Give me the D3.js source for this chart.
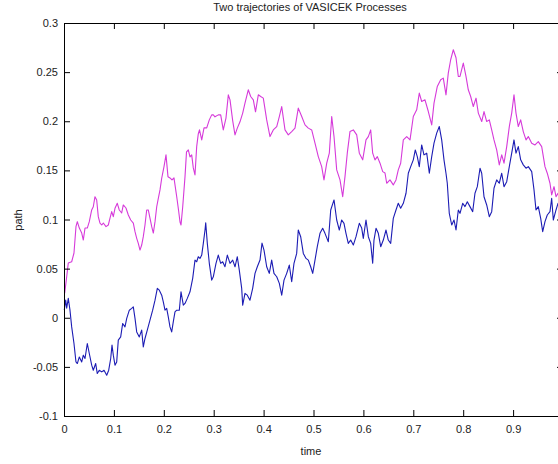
<!DOCTYPE html>
<html>
<head>
<meta charset="utf-8">
<script src="https://cdn.jsdelivr.net/npm/d3@7"></script>
<style>
  html, body { margin: 0; padding: 0; background: #fff; }
  svg { display: block; }
  text { font-family: "Liberation Sans", Arial, Helvetica, sans-serif; }
</style>
</head>
<body>
<div id="chart"></div>
<script>
const titleText = "Two trajectories of VASICEK Processes";
const xLabelText = "time";
const yLabelText = "path";

const xTickValues = [0, 0.1, 0.2, 0.3, 0.4, 0.5, 0.6, 0.7, 0.8, 0.9];
const xTickLabels = ["0", "0.1", "0.2", "0.3", "0.4", "0.5", "0.6", "0.7", "0.8", "0.9"];
const yTickValues = [-0.1, -0.05, 0, 0.05, 0.1, 0.15, 0.2, 0.25, 0.3];
const yTickLabels = ["-0.1", "-0.05", "0", "0.05", "0.1", "0.15", "0.2", "0.25", "0.3"];

// Trajectory 1 (magenta)
const magentaT = [0.0014,0.0054,0.0086,0.0154,0.0200,0.0240,0.0267,0.0307,0.0355,0.0387,0.0421,0.0467,0.0507,0.0555,0.0587,0.0621,0.0655,0.0687,0.0721,0.0756,0.0788,0.0842,0.0888,0.0922,0.0956,0.0988,0.1022,0.1068,0.1108,0.1156,0.1188,0.1242,0.1289,0.1337,0.1389,0.1423,0.1457,0.1489,0.1523,0.1557,0.1589,0.1623,0.1657,0.1689,0.1723,0.1758,0.1790,0.1824,0.1858,0.1890,0.1924,0.1958,0.2004,0.2044,0.2084,0.2124,0.2164,0.2204,0.2259,0.2295,0.2325,0.2345,0.2379,0.2425,0.2455,0.2491,0.2525,0.2559,0.2591,0.2625,0.2659,0.2691,0.2715,0.2760,0.2806,0.2860,0.2912,0.2960,0.2992,0.3026,0.3092,0.3140,0.3192,0.3246,0.3293,0.3327,0.3381,0.3427,0.3473,0.3527,0.3581,0.3627,0.3693,0.3741,0.3794,0.3838,0.3894,0.3942,0.3994,0.4062,0.4128,0.4194,0.4263,0.4315,0.4363,0.4429,0.4495,0.4563,0.4629,0.4695,0.4764,0.4830,0.4896,0.4964,0.5030,0.5096,0.5164,0.5210,0.5265,0.5317,0.5365,0.5411,0.5465,0.5531,0.5585,0.5631,0.5677,0.5731,0.5798,0.5866,0.5918,0.5986,0.6052,0.6099,0.6146,0.6186,0.6232,0.6279,0.6333,0.6387,0.6433,0.6467,0.6533,0.6599,0.6653,0.6699,0.6747,0.6800,0.6868,0.6934,0.7000,0.7068,0.7120,0.7168,0.7234,0.7301,0.7369,0.7415,0.7481,0.7549,0.7601,0.7655,0.7701,0.7749,0.7802,0.7856,0.7902,0.7936,0.8002,0.8056,0.8102,0.8150,0.8202,0.8257,0.8303,0.8371,0.8417,0.8471,0.8523,0.8571,0.8617,0.8671,0.8723,0.8772,0.8818,0.8872,0.8924,0.8972,0.9018,0.9058,0.9104,0.9152,0.9204,0.9259,0.9305,0.9373,0.9439,0.9505,0.9573,0.9639,0.9685,0.9739,0.9773,0.9820,0.9860,0.9900,0.9950,1.0000];
const magentaV = [0.0251,0.0417,0.0557,0.0570,0.0659,0.0927,0.0978,0.0913,0.0862,0.0791,0.0913,0.0913,0.0978,0.1097,0.1130,0.1232,0.1199,0.1029,0.0964,0.0944,0.0964,0.0927,0.0944,0.1015,0.1080,0.1029,0.1114,0.1165,0.1097,0.1066,0.1148,0.1117,0.1046,0.0995,0.0964,0.0876,0.0808,0.0757,0.0689,0.0740,0.0825,0.0944,0.1097,0.1097,0.1015,0.0927,0.0862,0.0978,0.1130,0.1216,0.1301,0.1420,0.1538,0.1658,0.1436,0.1423,0.1403,0.1423,0.1232,0.1097,0.0975,0.0944,0.1130,0.1436,0.1688,0.1708,0.1637,0.1658,0.1525,0.1454,0.1742,0.1871,0.1912,0.1810,0.1933,0.1933,0.2014,0.2065,0.2065,0.2045,0.2065,0.2065,0.1912,0.2032,0.2269,0.2218,0.2004,0.1861,0.1930,0.1994,0.2083,0.2185,0.2320,0.2252,0.2218,0.2096,0.2269,0.2252,0.2235,0.2014,0.1844,0.1912,0.1946,0.2048,0.2150,0.1912,0.1861,0.1895,0.1930,0.2134,0.2048,0.1963,0.1930,0.1912,0.1777,0.1640,0.1538,0.1403,0.1573,0.1675,0.2048,0.1844,0.1505,0.1403,0.1232,0.1436,0.1675,0.1895,0.1912,0.1861,0.1675,0.1607,0.1810,0.1844,0.1912,0.1675,0.1607,0.1640,0.1573,0.1487,0.1473,0.1369,0.1403,0.1352,0.1403,0.1505,0.1573,0.1810,0.1844,0.1810,0.2048,0.2116,0.2286,0.2201,0.2218,0.2099,0.1963,0.2185,0.2354,0.2422,0.2439,0.2269,0.2490,0.2626,0.2728,0.2646,0.2456,0.2456,0.2592,0.2456,0.2320,0.2252,0.2150,0.2235,0.2083,0.1997,0.2099,0.1997,0.2014,0.1912,0.1810,0.1708,0.1556,0.1658,0.1573,0.1742,0.1946,0.2083,0.2269,0.2083,0.1946,0.2014,0.1895,0.1810,0.1844,0.1777,0.1759,0.1793,0.1742,0.1538,0.1471,0.1369,0.1250,0.1334,0.1232,0.1267,0.1180,0.1220];

// Trajectory 2 (blue)
const blueT = [0.0006,0.0034,0.0054,0.0086,0.0120,0.0154,0.0200,0.0240,0.0267,0.0307,0.0355,0.0387,0.0421,0.0467,0.0507,0.0555,0.0587,0.0635,0.0667,0.0707,0.0756,0.0802,0.0856,0.0896,0.0936,0.0962,0.0988,0.1022,0.1056,0.1088,0.1136,0.1176,0.1222,0.1257,0.1309,0.1357,0.1389,0.1423,0.1457,0.1509,0.1557,0.1589,0.1623,0.1669,0.1723,0.1777,0.1824,0.1870,0.1910,0.1958,0.1990,0.2024,0.2058,0.2090,0.2124,0.2158,0.2190,0.2224,0.2259,0.2311,0.2345,0.2391,0.2425,0.2471,0.2525,0.2579,0.2625,0.2659,0.2691,0.2725,0.2760,0.2792,0.2826,0.2840,0.2872,0.2912,0.2960,0.2992,0.3046,0.3092,0.3140,0.3180,0.3226,0.3273,0.3327,0.3381,0.3427,0.3473,0.3513,0.3561,0.3581,0.3627,0.3673,0.3727,0.3781,0.3828,0.3874,0.3928,0.3968,0.4008,0.4062,0.4114,0.4162,0.4208,0.4263,0.4315,0.4363,0.4409,0.4463,0.4515,0.4563,0.4609,0.4663,0.4695,0.4743,0.4796,0.4850,0.4896,0.4944,0.4984,0.5030,0.5076,0.5130,0.5184,0.5230,0.5297,0.5345,0.5411,0.5465,0.5517,0.5565,0.5611,0.5651,0.5697,0.5745,0.5798,0.5852,0.5918,0.5966,0.5998,0.6052,0.6099,0.6146,0.6186,0.6212,0.6253,0.6299,0.6347,0.6399,0.6453,0.6499,0.6547,0.6599,0.6653,0.6699,0.6747,0.6800,0.6854,0.6900,0.6948,0.7000,0.7040,0.7080,0.7120,0.7168,0.7214,0.7269,0.7321,0.7369,0.7415,0.7469,0.7521,0.7569,0.7615,0.7655,0.7681,0.7721,0.7770,0.7816,0.7856,0.7902,0.7936,0.7990,0.8036,0.8082,0.8136,0.8190,0.8236,0.8283,0.8337,0.8371,0.8417,0.8471,0.8523,0.8571,0.8617,0.8671,0.8723,0.8772,0.8818,0.8872,0.8924,0.8972,0.9018,0.9058,0.9104,0.9152,0.9204,0.9259,0.9305,0.9373,0.9419,0.9459,0.9505,0.9553,0.9593,0.9639,0.9685,0.9739,0.9773,0.9806,0.9860,0.9900,0.9950,1.0000];
const blueV = [0.0077,0.0179,0.0098,0.0197,0.0077,-0.0093,-0.0262,-0.0450,-0.0466,-0.0399,-0.0450,-0.0381,-0.0415,-0.0262,-0.0364,-0.0483,-0.0534,-0.0466,-0.0568,-0.0534,-0.0551,-0.0534,-0.0585,-0.0534,-0.0415,-0.0279,-0.0381,-0.0483,-0.0450,-0.0228,-0.0195,-0.0058,-0.0093,-0.0007,0.0077,0.0095,0.0111,-0.0007,-0.0144,-0.0195,-0.0126,-0.0297,-0.0211,-0.0126,-0.0024,0.0077,0.0179,0.0299,0.0281,0.0230,0.0162,0.0077,0.0095,0.0009,-0.0093,-0.0144,-0.0042,0.0060,0.0077,0.0077,0.0264,0.0128,0.0146,0.0197,0.0264,0.0401,0.0587,0.0570,0.0621,0.0604,0.0638,0.0757,0.0893,0.0967,0.0757,0.0554,0.0383,0.0417,0.0554,0.0638,0.0554,0.0570,0.0519,0.0638,0.0554,0.0587,0.0519,0.0621,0.0485,0.0299,0.0128,0.0248,0.0230,0.0179,0.0299,0.0452,0.0519,0.0587,0.0760,0.0689,0.0519,0.0452,0.0587,0.0452,0.0417,0.0350,0.0230,0.0383,0.0452,0.0536,0.0366,0.0554,0.0655,0.0893,0.0825,0.0655,0.0604,0.0587,0.0519,0.0452,0.0587,0.0723,0.0859,0.0910,0.0859,0.0774,0.1097,0.1199,0.0995,0.0893,0.0995,0.0961,0.0859,0.0757,0.0791,0.0740,0.0825,0.0961,0.0913,0.0808,0.0995,0.0825,0.0757,0.0554,0.0791,0.0910,0.0859,0.0723,0.0791,0.0893,0.0791,0.0757,0.1012,0.1097,0.1165,0.1114,0.1165,0.1267,0.1471,0.1538,0.1607,0.1708,0.1640,0.1538,0.1759,0.1658,0.1675,0.1471,0.1640,0.1777,0.1879,0.1946,0.1810,0.1607,0.1471,0.1369,0.1063,0.0944,0.0995,0.0893,0.1097,0.1063,0.1165,0.1131,0.1181,0.1131,0.1080,0.1267,0.1334,0.1522,0.1471,0.1232,0.1148,0.1029,0.1080,0.1318,0.1403,0.1369,0.1471,0.1334,0.1385,0.1538,0.1675,0.1810,0.1675,0.1742,0.1607,0.1556,0.1522,0.1538,0.1487,0.1301,0.1097,0.1131,0.1012,0.0876,0.0978,0.1046,0.1080,0.1216,0.0995,0.1097,0.1165,0.1100,0.1060];

const seriesColors = ["#d63ada", "#1c1cb4"];

const W = 558, H = 464;
const svg = d3.select("#chart").append("svg")
  .attr("width", W).attr("height", H)
  .style("background", "#fff");

const x = d3.scaleLinear().domain([0, 1]).range([64, 563]);
const y = d3.scaleLinear().domain([-0.1, 0.3]).range([416, 23]);

const fontSize = 11;
const textColor = "#222";

// Series lines
const series = [
  { t: magentaT, v: magentaV, color: seriesColors[0] },
  { t: blueT, v: blueV, color: seriesColors[1] }
];
const line = d3.line().x(d => x(d[0])).y(d => y(d[1]));
series.forEach(s => {
  const pts = s.t.map((t, i) => [t, s.v[i]]);
  svg.append("path")
    .datum(pts)
    .attr("fill", "none")
    .attr("stroke", s.color)
    .attr("stroke-width", 1.1)
    .attr("stroke-linejoin", "round")
    .attr("d", line);
});

function styleAxis(g) {
  g.selectAll("path.domain").attr("stroke", "#000").attr("stroke-width", 1);
  g.selectAll(".tick line").attr("stroke", "#000").attr("stroke-width", 1);
  g.selectAll("text")
    .attr("font-size", fontSize)
    .attr("font-family", '"Liberation Sans", Arial, Helvetica, sans-serif')
    .attr("fill", textColor);
}

const tickLen = 6;
const allXTicks = xTickValues.concat([1]);
// Bottom axis
svg.append("g").attr("transform", `translate(0,${y(-0.1)})`)
  .call(d3.axisBottom(x).tickValues(xTickValues)
    .tickFormat((d, i) => xTickLabels[i])
    .tickSizeInner(-tickLen).tickSizeOuter(0).tickPadding(9))
  .call(styleAxis);
// Top axis
svg.append("g").attr("transform", `translate(0,${y(0.3)})`)
  .call(d3.axisTop(x).tickValues(xTickValues).tickFormat(() => "")
    .tickSizeInner(-tickLen).tickSizeOuter(0))
  .call(styleAxis);
// Left axis
svg.append("g").attr("transform", `translate(${x(0)},0)`)
  .call(d3.axisLeft(y).tickValues(yTickValues)
    .tickFormat((d, i) => yTickLabels[i])
    .tickSizeInner(-tickLen).tickSizeOuter(0).tickPadding(6))
  .call(styleAxis);
// Right axis
svg.append("g").attr("transform", `translate(${x(1)},0)`)
  .call(d3.axisRight(y).tickValues(yTickValues).tickFormat(() => "")
    .tickSizeInner(-tickLen).tickSizeOuter(0))
  .call(styleAxis);

// Title
svg.append("text")
  .attr("x", 310).attr("y", 11)
  .attr("text-anchor", "middle")
  .attr("font-size", fontSize)
  .attr("fill", textColor)
  .text(titleText);

// X label
svg.append("text")
  .attr("x", 311).attr("y", 455)
  .attr("text-anchor", "middle")
  .attr("font-size", fontSize)
  .attr("fill", textColor)
  .text(xLabelText);

// Y label
svg.append("text")
  .attr("transform", `translate(22,220) rotate(-90)`)
  .attr("text-anchor", "middle")
  .attr("font-size", fontSize)
  .attr("fill", textColor)
  .text(yLabelText);
</script>
</body>
</html>
